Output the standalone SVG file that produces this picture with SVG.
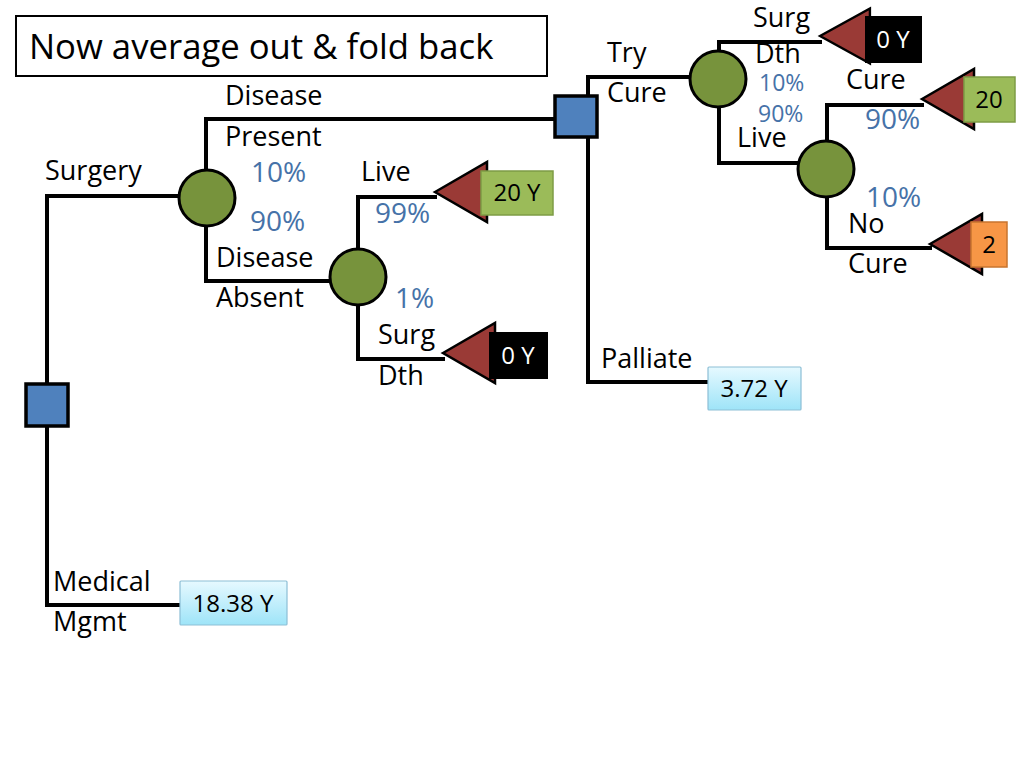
<svg xmlns="http://www.w3.org/2000/svg" width="1024" height="768" viewBox="0 0 1024 768">
<style>
.ln{fill:none;stroke:#000;stroke-width:4;stroke-linejoin:miter}
.ch{fill:#77933C;stroke:#000;stroke-width:3}
.dc{fill:#4F81BD;stroke:#000;stroke-width:3.5}
.tri{fill:#9A3A36;stroke:#000;stroke-width:2.5;stroke-linejoin:miter}
.t{font-family:"Open Sans","DejaVu Sans",sans-serif;font-size:27px;fill:#000}
.p{font-family:"Open Sans","DejaVu Sans",sans-serif;font-size:28px;fill:#4672A8}
.ps{font-size:23px}
.bt{font-family:"Open Sans","DejaVu Sans",sans-serif;font-size:24px;fill:#000;text-anchor:middle}
.wt{fill:#fff}
.gb{fill:#9BBB59;stroke:#7E9C45;stroke-width:1.5}
.ob{fill:#F79646;stroke:#C7742F;stroke-width:1.5}
.kb{fill:#000}
.lb{fill:url(#lbg);stroke:#8DBFD6;stroke-width:1.2}
</style>
<defs>
<linearGradient id="lbg" x1="0" y1="0" x2="0" y2="1">
<stop offset="0" stop-color="#E6F9FF"/>
<stop offset="1" stop-color="#9EE4F8"/>
</linearGradient>
<path id="arr" d="M0,0 L52,-30 L52,30 Z"/>
</defs>
<rect width="1024" height="768" fill="#fff"/>

<g id="title">
<rect x="16" y="16" width="531" height="60" fill="#fff" stroke="#000" stroke-width="2"/>
<text x="29" y="59" class="t" style="font-size:34.7px">Now average out &amp; fold back</text>
</g>

<g id="connectors">
<polyline class="ln" points="47,384 47,196 180,196"/>
<polyline class="ln" points="47,426 47,605 180,605"/>
<polyline class="ln" points="206,170 206,119 556,119"/>
<polyline class="ln" points="206,225 206,281 331,281"/>
<polyline class="ln" points="358,249 358,197 437,197"/>
<polyline class="ln" points="358,305 358,359 445,359"/>
<polyline class="ln" points="588,96 588,77 691,77"/>
<polyline class="ln" points="588,137 588,382 708,382"/>
<polyline class="ln" points="719,51 719,42 822,42"/>
<polyline class="ln" points="719,107 719,163 798,163"/>
<polyline class="ln" points="827,141 827,105 924,105"/>
<polyline class="ln" points="827,197 827,248 932,248"/>
</g>

<g id="decision-root"><rect class="dc" x="26" y="384" width="42" height="42"/></g>
<g id="decision-cure"><rect class="dc" x="555" y="96" width="42" height="41"/></g>

<g id="chance-disease"><circle class="ch" cx="207" cy="198" r="28"/></g>
<g id="chance-absent"><circle class="ch" cx="358" cy="277" r="28"/></g>
<g id="chance-trycure"><circle class="ch" cx="718" cy="79" r="28"/></g>
<g id="chance-live"><circle class="ch" cx="826" cy="169" r="28"/></g>

<g id="outcome-absent-live">
<use href="#arr" class="tri" x="435" y="192"/>
<rect class="gb" x="481" y="171" width="72" height="44"/>
<text class="bt" x="517" y="201">20 Y</text>
</g>
<g id="outcome-absent-dth">
<use href="#arr" class="tri" x="443" y="353"/>
<rect class="kb" x="489" y="332" width="59" height="47"/>
<text class="bt wt" x="518" y="364">0 Y</text>
</g>
<g id="outcome-cure-dth">
<use href="#arr" class="tri" x="820" y="36" transform="translate(820 36) scale(0.96 0.92) translate(-820 -36)"/>
<rect class="kb" x="865" y="16" width="57" height="47"/>
<text class="bt wt" x="893" y="48">0 Y</text>
</g>
<g id="outcome-cure">
<use href="#arr" class="tri" x="922" y="99"/>
<rect class="gb" x="964" y="77" width="51" height="45"/>
<text class="bt" x="989" y="108">20</text>
</g>
<g id="outcome-nocure">
<use href="#arr" class="tri" x="930" y="244"/>
<rect class="ob" x="971" y="222" width="36" height="45"/>
<text class="bt" x="989" y="253">2</text>
</g>
<g id="value-palliate">
<rect class="lb" x="708" y="367" width="93" height="43" rx="1"/>
<text class="bt" x="754" y="397">3.72 Y</text>
</g>
<g id="value-medical">
<rect class="lb" x="180" y="581" width="107" height="44" rx="1"/>
<text class="bt" x="233" y="612">18.38 Y</text>
</g>

<g id="labels">
<text class="t" x="45" y="180">Surgery</text>
<text class="t" x="225" y="105">Disease</text>
<text class="t" x="225" y="146">Present</text>
<text class="p" x="251" y="182">10%</text>
<text class="p" x="250" y="231">90%</text>
<text class="t" x="216" y="267">Disease</text>
<text class="t" x="216" y="307">Absent</text>
<text class="t" x="361" y="181">Live</text>
<text class="p" x="375" y="223">99%</text>
<text class="p" x="395" y="308">1%</text>
<text class="t" x="378" y="344">Surg</text>
<text class="t" x="378" y="385">Dth</text>
<text class="t" x="607" y="62">Try</text>
<text class="t" x="607" y="102">Cure</text>
<text class="t" x="753" y="27">Surg</text>
<text class="t" x="755" y="63">Dth</text>
<text class="p ps" x="759" y="91">10%</text>
<text class="p ps" x="758" y="122">90%</text>
<text class="t" x="737" y="147">Live</text>
<text class="t" x="846" y="89">Cure</text>
<text class="p" x="865" y="129">90%</text>
<text class="p" x="866" y="207">10%</text>
<text class="t" x="848" y="233">No</text>
<text class="t" x="848" y="273">Cure</text>
<text class="t" x="601" y="368">Palliate</text>
<text class="t" x="53" y="591">Medical</text>
<text class="t" x="53" y="631">Mgmt</text>
</g>
</svg>
